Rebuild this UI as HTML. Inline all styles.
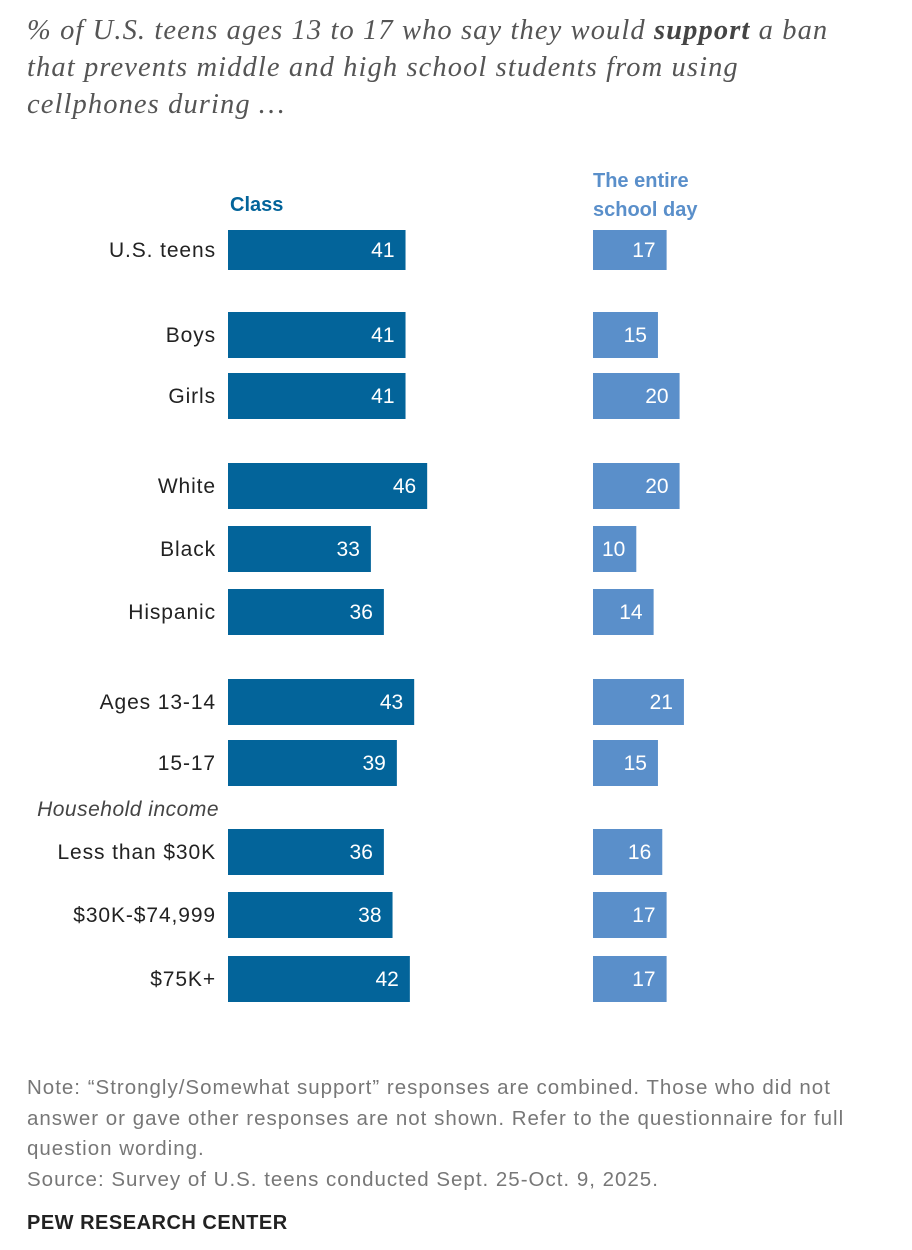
<!DOCTYPE html>
<html><head><meta charset="utf-8"><style>
body{margin:0;background:#fff;width:912px;height:1250px;position:relative;overflow:hidden;font-family:"Liberation Sans",Arial,sans-serif}
.title{position:absolute;left:27px;top:12px;width:880px;font-family:"Liberation Serif",serif;font-style:italic;font-size:28.5px;line-height:37px;color:#555;white-space:nowrap;letter-spacing:1.1px}
.title b{color:#444}
.note{position:absolute;left:27px;top:1073px;width:880px;font-size:20.5px;line-height:30.5px;color:#777;white-space:nowrap;letter-spacing:1px}
.pew{position:absolute;left:27px;top:1212px;font-size:20px;font-weight:bold;color:#222;letter-spacing:0.5px}
</style></head><body>
<div class="title">% of U.S. teens ages 13 to 17 who say they would <b>support</b> a ban<br>that prevents middle and high school students from using<br>cellphones during …</div>
<svg id="chart" width="912" height="1060" style="position:absolute;left:0;top:0"></svg>
<div class="note">Note: “Strongly/Somewhat support” responses are combined. Those who did not<br>answer or gave other responses are not shown. Refer to the questionnaire for full<br>question wording.<br>Source: Survey of U.S. teens conducted Sept. 25-Oct. 9, 2025.</div>
<div class="pew">PEW RESEARCH CENTER</div>
<script>
const categories=["U.S. teens","Boys","Girls","White","Black","Hispanic","Ages 13-14","15-17","Less than $30K","$30K-$74,999","$75K+"];
const classValues=[41,41,41,46,33,36,43,39,36,38,42];
const dayValues=[17,15,20,20,10,14,21,15,16,17,17];
const rowCenters=[250,335,396,486,549,612,702,763,852,915,979];
const NS="http://www.w3.org/2000/svg";
const svg=document.getElementById('chart');
const scale=v=>v*4.33;
function mk(tag,attrs,txt){const e=document.createElementNS(NS,tag);for(const k in attrs)e.setAttribute(k,attrs[k]);if(txt!==undefined)e.textContent=txt;svg.appendChild(e);return e;}
let t;
t=mk('text',{x:230,y:211,'font-size':20,'font-weight':'bold',fill:'#03649a'},'Class');


t=mk('text',{x:593,y:187,'font-size':20,'font-weight':'bold',fill:'#5a8fca'},'The entire');


t=mk('text',{x:593,y:216,'font-size':20,'font-weight':'bold',fill:'#5a8fca'},'school day');


t=mk('text',{x:219,y:816,'font-size':21,'font-style':'italic',fill:'#444','text-anchor':'end','letter-spacing':0.5},'Household income');


categories.forEach((c,i)=>{
  const cy=rowCenters[i];const h=i===0?40:46;const y=cy-h/2;
  let l=mk('text',{x:216,y:cy+7,'font-size':21,fill:'#222','text-anchor':'end','letter-spacing':0.9},c);
  
  
  const w1=scale(classValues[i]);
  let b=mk('rect',{x:228,y:y,width:w1,height:h,fill:'#03649a'});
  
  
  let v=mk('text',{x:228+w1-11,y:cy+7,'font-size':21,fill:'#fff','text-anchor':'end'},classValues[i]);
  
  
  const w2=scale(dayValues[i]);
  let b2=mk('rect',{x:593,y:y,width:w2,height:h,fill:'#5a8fca'});
  
  
  let v2=mk('text',{x:593+w2-11,y:cy+7,'font-size':21,fill:'#fff','text-anchor':'end'},dayValues[i]);
  
  
});
</script>
</body></html>
